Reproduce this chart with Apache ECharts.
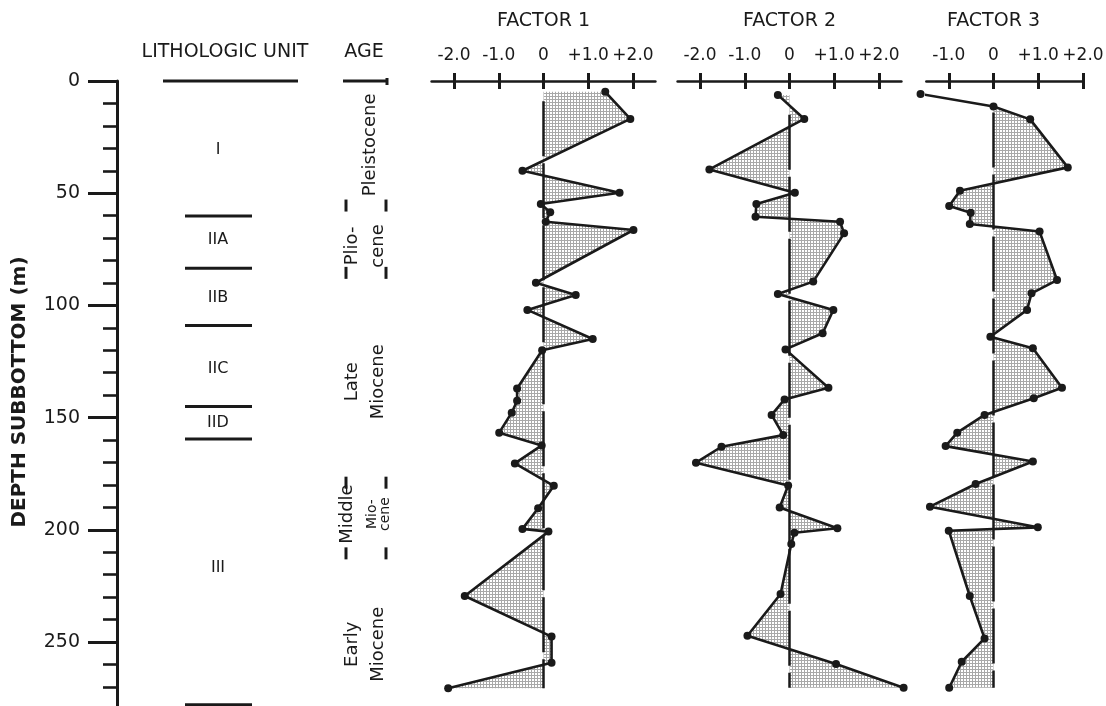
<!DOCTYPE html>
<html><head><meta charset="utf-8">
<script src="https://cdn.jsdelivr.net/npm/echarts@6/dist/echarts.min.js"></script>
<style>html,body{margin:0;padding:0;background:#fff}#c{width:1106px;height:706px}</style>
</head><body><div id="c"></div>
<script>
// ---------- data ----------
const depthTicks = [0, 50, 100, 150, 200, 250];
const factorTicks = [-2, -1, 0, 1, 2];
const factor3Ticks = [-1, 0, 1, 2];

const f1Depth = [4.8, 16.9, 40, 49.8, 54.8, 58.5, 62.7, 66.4, 89.9, 95.4, 102, 115, 120, 137, 142.5, 147.8, 156.7, 162.4, 170.4, 180.4, 190.4, 199.6, 200.8, 229.5, 247.6, 259.2, 270.6];
const f1Value = [1.38, 1.94, -0.47, 1.70, -0.06, 0.15, 0.05, 2.01, -0.17, 0.72, -0.36, 1.10, -0.03, -0.59, -0.59, -0.71, -0.99, -0.04, -0.64, 0.23, -0.12, -0.47, 0.11, -1.76, 0.18, 0.18, -2.13];

const f2Depth = [6.2, 16.9, 39.4, 49.8, 54.8, 60.5, 62.7, 67.9, 89.4, 94.9, 102, 112.4, 119.6, 136.7, 141.9, 148.8, 157.8, 163, 170.1, 180.3, 190.1, 199.3, 201.3, 206.3, 228.6, 247.2, 259.8, 270.4];
const f2Value = [-0.26, 0.33, -1.79, 0.12, -0.74, -0.76, 1.13, 1.22, 0.53, -0.26, 0.98, 0.74, -0.09, 0.87, -0.11, -0.40, -0.14, -1.52, -2.09, -0.03, -0.22, 1.07, 0.11, 0.04, -0.20, -0.94, 1.04, 2.55];

const f3Depth = [5.8, 11.4, 17.1, 38.5, 48.9, 55.7, 58.7, 63.7, 67.1, 88.7, 94.6, 102, 114, 119.1, 136.7, 141.4, 148.8, 156.7, 162.7, 169.6, 179.6, 189.7, 198.9, 200.4, 229.5, 248.4, 258.8, 270.4];
const f3Value = [-1.63, 0, 0.82, 1.66, -0.75, -0.99, -0.51, -0.53, 1.03, 1.42, 0.85, 0.75, -0.07, 0.88, 1.53, 0.90, -0.20, -0.81, -1.07, 0.88, -0.40, -1.42, 0.99, -1.00, -0.53, -0.20, -0.71, -0.99];

const lithoBoundaries = [0, 60.2, 83.4, 109, 145, 159.5, 278];
const lithoNames = ['I', 'IIA', 'IIB', 'IIC', 'IID', 'III'];
const lithoLabelDepth = [30.7, 70.9, 96.7, 128.3, 152.4, 217];

const ageBoundaries = [0, 55.5, 85.5, 179, 210.5];
const ageNames = [['Pleistocene'], ['Plio-', 'cene'], ['Late', 'Miocene'], ['Middle', 'Mio-', 'cene'], ['Early', 'Miocene']];
const ageLabelDepth = [28.5, 73.5, 134, 193, 251];

// ---------- styling ----------
const INK = '#1a1a1a';
const FONT = 'DejaVu Sans';

function makePattern() {
  const c = document.createElement('canvas');
  c.width = 3; c.height = 3;
  const g = c.getContext('2d');
  g.fillStyle = '#ffffff'; g.fillRect(0, 0, 3, 3);
  g.fillStyle = '#a8a8a8';
  g.fillRect(0, 0, 3, 1); g.fillRect(0, 0, 1, 3);
  return c;
}
const patternCanvas = makePattern();

function fmt(v) { return v === 0 ? '0' : (v > 0 ? '+' : '') + v.toFixed(1); }

function zip(vals, deps) { return vals.map((v, i) => [v, deps[i]]); }

function makeFill(vals, deps, start, zTop) {
  return function (params, api) {
    const last = deps.length - 1;
    const pts = [api.coord([0, deps[start]])];
    for (let i = start; i < vals.length; i++) pts.push(api.coord([vals[i], deps[i]]));
    pts.push(api.coord([0, deps[last]]));
    const a = api.coord([0, zTop]), b = api.coord([0, deps[last]]);
    return {
      type: 'group', children: [
        { type: 'polygon', shape: { points: pts }, style: { fill: { image: patternCanvas, repeat: 'repeat' }, stroke: null } },
        { type: 'line', shape: { x1: a[0], y1: a[1], x2: b[0], y2: b[1] }, style: { stroke: INK, lineWidth: 2.5, lineDash: [55, 7] } }
      ]
    };
  };
}

const GRID_TOP = 81, PX_PER_M = 2.244, DMAX = 300;
const GH = DMAX * PX_PER_M;
const U = 44.75; // px per factor unit

const grids = [
  { left: 117, top: GRID_TOP, width: 283, height: GH, outerBoundsMode: 'none' },
  { left: 543.5 - 2.5 * U, top: GRID_TOP, width: 5 * U, height: GH, outerBoundsMode: 'none' },
  { left: 789.5 - 2.5 * U, top: GRID_TOP, width: 5 * U, height: GH, outerBoundsMode: 'none' },
  { left: 993.5 - 1.5 * U, top: GRID_TOP, width: 3.5 * U, height: GH, outerBoundsMode: 'none' }
];

function factorAxes(gi, min, max, ticks) {
  const tickStyle = { color: INK, width: 3 };
  return [
    {
      gridIndex: gi, type: 'value', position: 'top', min: min, max: max,
      axisLine: { show: true, onZero: false, lineStyle: { color: INK, width: 2.6 } },
      axisTick: { show: true, customValues: ticks, length: 8, lineStyle: tickStyle },
      axisLabel: { show: true, customValues: ticks, formatter: fmt, margin: 17, fontSize: 17, fontFamily: FONT, color: INK,
        interval: 0, hideOverlap: false, showMinLabel: true, showMaxLabel: true },
      splitLine: { show: false }
    },
    {
      gridIndex: gi, type: 'value', position: 'top', min: min, max: max,
      axisLine: { show: false },
      axisTick: { show: true, inside: true, customValues: ticks, length: 8, lineStyle: tickStyle },
      axisLabel: { show: false },
      splitLine: { show: false }
    }
  ];
}

const xAxes = [
  { gridIndex: 0, type: 'value', min: 0, max: 283, show: false }
].concat(factorAxes(1, -2.5, 2.5, factorTicks), factorAxes(2, -2.5, 2.5, factorTicks), factorAxes(3, -1.5, 2, factor3Ticks));

const yAxes = [
  {
    gridIndex: 0, type: 'value', inverse: true, min: 0, max: DMAX, interval: 50, position: 'left',
    axisLine: { show: true, onZero: false, lineStyle: { color: INK, width: 3 } },
    axisTick: { show: true, length: 29, lineStyle: { color: INK, width: 3 } },
    minorTick: { show: true, splitNumber: 5, length: 14, lineStyle: { color: INK, width: 2.6 } },
    axisLabel: { margin: 37, fontSize: 19, fontFamily: FONT, color: INK, showMaxLabel: false,
      formatter: v => (depthTicks.indexOf(v) >= 0 ? String(v) : '') },
    splitLine: { show: false }, minorSplitLine: { show: false }
  },
  { gridIndex: 1, type: 'value', inverse: true, min: 0, max: DMAX, show: false },
  { gridIndex: 2, type: 'value', inverse: true, min: 0, max: DMAX, show: false },
  { gridIndex: 3, type: 'value', inverse: true, min: 0, max: DMAX, show: false }
];

function lineSeries(xi, yi, vals, deps) {
  return {
    type: 'line', xAxisIndex: xi, yAxisIndex: yi, data: zip(vals, deps),
    symbol: 'circle', symbolSize: 8, showSymbol: true, clip: false, z: 5,
    itemStyle: { color: INK }, lineStyle: { color: INK, width: 2.6 },
    emphasis: { disabled: true }
  };
}

function fillSeries(xi, yi, vals, deps, start, zTop) {
  return {
    type: 'custom', xAxisIndex: xi, yAxisIndex: yi, data: [[0, 0]], z: 2, silent: true, clip: false,
    renderItem: makeFill(vals, deps, start, zTop)
  };
}

// lithologic unit boundaries and labels
const lithoLineSeries = {
  type: 'custom', xAxisIndex: 0, yAxisIndex: 0, silent: true, clip: false,
  data: lithoBoundaries.map((d, i) => [i, d]),
  renderItem: function (params, api) {
    const i = api.value(0), d = api.value(1);
    const x0 = i === 0 ? 46 : 68, x1 = i === 0 ? 181 : 135;
    const a = api.coord([x0, d]), b = api.coord([x1, d]);
    return { type: 'line', shape: { x1: a[0], y1: a[1], x2: b[0], y2: b[1] }, style: { stroke: INK, lineWidth: 3 } };
  }
};
const lithoLabelSeries = {
  type: 'custom', xAxisIndex: 0, yAxisIndex: 0, silent: true, clip: false,
  data: lithoLabelDepth.map((d, i) => [i, d]),
  renderItem: function (params, api) {
    const i = api.value(0), d = api.value(1);
    const p = api.coord([101, d]);
    return { type: 'text', x: p[0], y: p[1], style: { text: lithoNames[i], fontSize: 16, fontFamily: FONT, fill: INK,
      align: 'center', verticalAlign: 'middle', textAlign: 'center', textVerticalAlign: 'middle' } };
  }
};

// age boundaries and labels
const ageMarkSeries = {
  type: 'custom', xAxisIndex: 0, yAxisIndex: 0, silent: true, clip: false,
  data: ageBoundaries.map((d, i) => [i, d]),
  renderItem: function (params, api) {
    const d = api.value(1);
    const st = { stroke: INK, lineWidth: 3 };
    if (d === 0) {
      const a = api.coord([226, d]), b = api.coord([271, d]);
      return { type: 'group', children: [
        { type: 'line', shape: { x1: a[0], y1: a[1], x2: b[0], y2: b[1] }, style: st },
        { type: 'line', shape: { x1: b[0] - 1, y1: b[1] - 3, x2: b[0] - 1, y2: b[1] + 4 }, style: st }
      ] };
    }
    const l = api.coord([229, d]), r = api.coord([269, d]);
    return { type: 'group', children: [
      { type: 'line', shape: { x1: l[0], y1: l[1] - 6, x2: l[0], y2: l[1] + 6 }, style: st },
      { type: 'line', shape: { x1: r[0], y1: r[1] - 6, x2: r[0], y2: r[1] + 6 }, style: st }
    ] };
  }
};
const ageLabelSeries = {
  type: 'custom', xAxisIndex: 0, yAxisIndex: 0, silent: true, clip: false,
  data: ageLabelDepth.map((d, i) => [i, d]),
  renderItem: function (params, api) {
    const i = api.value(0), d = api.value(1);
    const lines = ageNames[i];
    let cols, sizes;
    if (lines.length === 1) { cols = [253]; sizes = [18]; }
    else if (lines.length === 2) { cols = [235, 261]; sizes = [18, 18]; }
    else { cols = [230, 255, 268]; sizes = [18, 14, 14]; }
    const children = lines.map((t, k) => {
      const p = api.coord([cols[k], d]);
      return { type: 'text', x: p[0], y: p[1], rotation: Math.PI / 2,
        style: { text: t, fontSize: sizes[k], fontFamily: FONT, fill: INK,
          align: 'center', verticalAlign: 'middle', textAlign: 'center', textVerticalAlign: 'middle' } };
    });
    return { type: 'group', children: children };
  }
};

function headText(t, x, y, size) {
  return { type: 'text', x: x, y: y, silent: true,
    style: { text: t, fontSize: size, fontFamily: FONT, fill: INK, align: 'center', verticalAlign: 'middle',
      textAlign: 'center', textVerticalAlign: 'middle' } };
}

const chart = echarts.init(document.getElementById('c'), null, { renderer: 'canvas' });
chart.setOption({
  animation: false,
  backgroundColor: '#ffffff',
  grid: grids,
  xAxis: xAxes,
  yAxis: yAxes,
  graphic: [
    headText('LITHOLOGIC UNIT', 225, 52, 19),
    headText('AGE', 364, 52, 19),
    headText('FACTOR 1', 543.5, 21, 19),
    headText('FACTOR 2', 789.5, 21, 19),
    headText('FACTOR 3', 993.5, 21, 19),
    { type: 'text', x: 20, y: 392, rotation: Math.PI / 2, silent: true,
      style: { text: 'DEPTH SUBBOTTOM (m)', fontSize: 20, fontWeight: 'bold', fontFamily: FONT, fill: INK,
        align: 'center', verticalAlign: 'middle', textAlign: 'center', textVerticalAlign: 'middle' } }
  ],
  series: [
    lithoLineSeries, lithoLabelSeries, ageMarkSeries, ageLabelSeries,
    fillSeries(1, 1, f1Value, f1Depth, 0, 9),
    fillSeries(3, 2, f2Value, f2Depth, 0, 15),
    fillSeries(5, 3, f3Value, f3Depth, 1, 14),
    lineSeries(1, 1, f1Value, f1Depth),
    lineSeries(3, 2, f2Value, f2Depth),
    lineSeries(5, 3, f3Value, f3Depth)
  ]
});
</script>
</body></html>
